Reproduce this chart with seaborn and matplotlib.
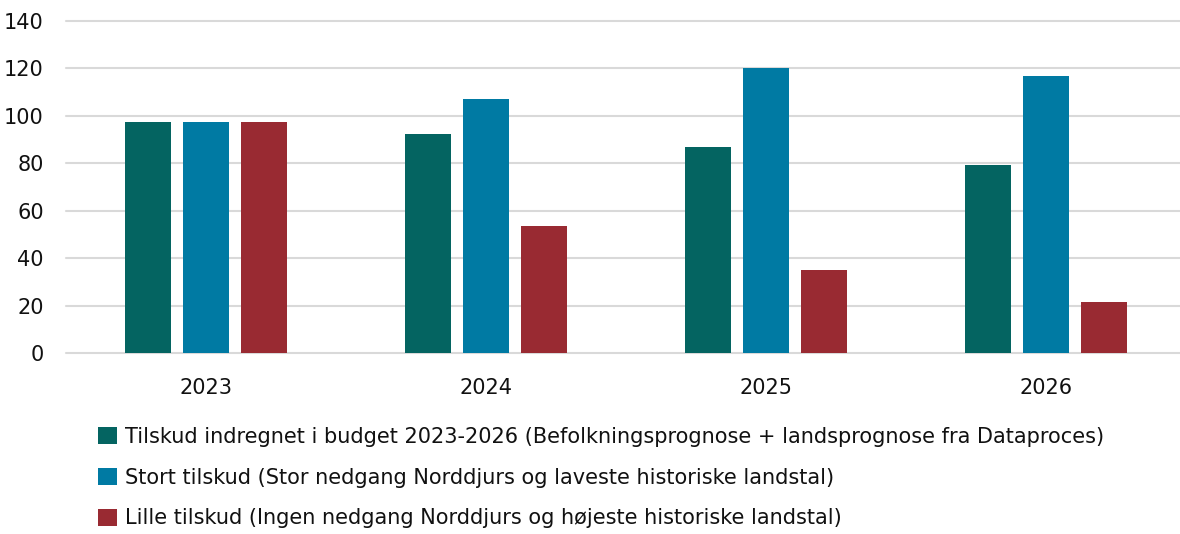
import pandas as pd
import matplotlib.pyplot as plt
import seaborn as sns

years = ["2023", "2024", "2025", "2026"]
series = [
    "Tilskud indregnet i budget 2023-2026 (Befolkningsprognose + landsprognose fra Dataproces)",
    "Stort tilskud (Stor nedgang Norddjurs og laveste historiske landstal)",
    "Lille tilskud (Ingen nedgang Norddjurs og højeste historiske landstal)",
]
budget = [97.3, 92.3, 86.8, 79.3]
stort = [97.3, 107.0, 120.1, 116.7]
lille = [97.3, 53.6, 35.1, 21.6]
colors = ["#046461", "#007AA3", "#992A32"]

df = pd.DataFrame({
    "year": years * 3,
    "value": budget + stort + lille,
    "series": [s for s in series for _ in years],
})

sns.set_style("white")
plt.rcParams["font.family"] = ["DejaVu Sans"]

fig = plt.figure(figsize=(11.8, 5.34), dpi=100)
ax = fig.add_axes([0.056, 0.339, 0.949, 0.622])

sns.barplot(data=df, x="year", y="value", hue="series", palette=colors,
            width=0.62, gap=0.21, saturation=1, linewidth=0, ax=ax, legend=True)

ax.set_ylim(0, 140)
ax.set_yticks(range(0, 141, 20))
ax.set_xlim(-0.5, 3.5)
ax.yaxis.grid(True, color="#d9d9d9", linewidth=1.5)
for line in ax.get_ygridlines():
    line.set_clip_on(False)
ax.set_axisbelow(True)
for s in ax.spines.values():
    s.set_visible(False)
ax.tick_params(axis="both", length=0, labelsize=15, colors="#111111")
ax.tick_params(axis="x", pad=18)
ax.tick_params(axis="y", pad=16)
ax.set_xlabel("")
ax.set_ylabel("")

handles, labels = ax.get_legend_handles_labels()
ax.legend_.remove()
fig.legend(handles, labels, loc="upper left", bbox_to_anchor=(0.067, 0.236),
           frameon=False, ncol=1, fontsize=15, handlelength=0.9,
           handleheight=0.9, handletextpad=0.4, labelspacing=1.0,
           labelcolor="#111111")

fig.savefig("out.png", dpi=100)
